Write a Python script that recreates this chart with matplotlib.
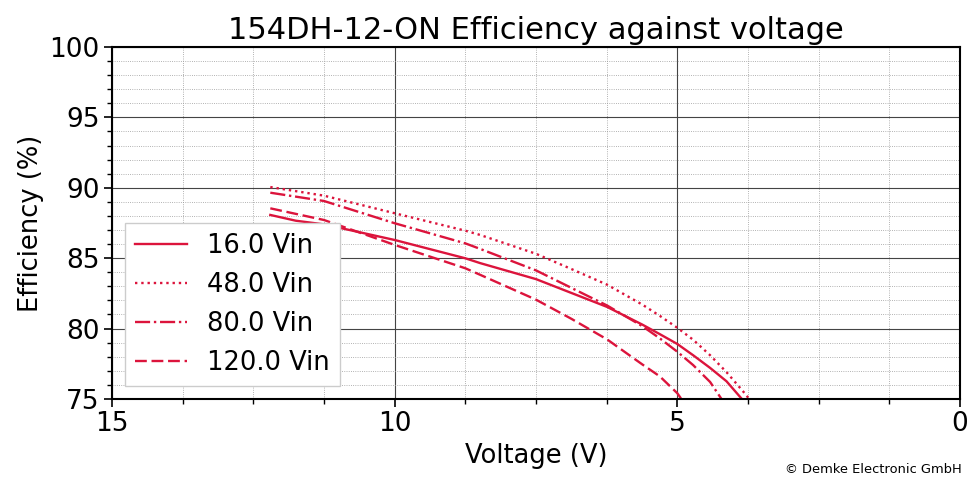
"""
Efficiency against output voltage for the 154DH-12-ON converter,
one curve per input voltage.
"""

import matplotlib
matplotlib.use("Agg")
import matplotlib.pyplot as plt
from matplotlib.ticker import AutoMinorLocator, MultipleLocator

# ----------------------------------
# Data
# ----------------------------------

v_16 = [12.2, 11.75, 11.25, 10.0, 8.75, 8.49, 7.5, 6.87, 6.24, 5.62,
        5.31, 5.0, 4.72, 4.42, 4.13, 3.86]
eff_16 = [88.07, 87.66, 87.4, 86.29, 84.99, 84.65, 83.51, 82.52, 81.53,
          80.28, 79.6, 78.9, 78.1, 77.2, 76.25, 75.0]

v_48 = [12.2, 11.25, 10.0, 8.75, 8.49, 7.5, 6.87, 6.24, 5.62, 5.31,
        5.0, 4.72, 4.42, 4.13, 3.83, 3.73]
eff_48 = [90.05, 89.44, 88.19, 86.95, 86.65, 85.31, 84.22, 83.11, 81.7,
          80.9, 80.05, 79.2, 78.1, 76.9, 75.5, 75.0]

v_80 = [12.2, 11.25, 10.0, 8.75, 8.49, 7.5, 6.87, 6.24, 5.62, 5.31,
        5.0, 4.72, 4.42, 4.22]
eff_80 = [89.65, 89.06, 87.48, 86.05, 85.66, 84.13, 82.88, 81.63, 80.17,
          79.3, 78.35, 77.4, 76.2, 75.0]

v_120 = [12.2, 11.25, 10.0, 8.75, 8.49, 7.5, 6.87, 6.24, 5.62, 5.31,
         5.0, 4.93]
eff_120 = [88.54, 87.71, 85.94, 84.28, 83.82, 82.05, 80.68, 79.22, 77.45,
           76.6, 75.4, 75.0]

labels = ["16.0 Vin", "48.0 Vin", "80.0 Vin", "120.0 Vin"]
styles = ["-", ":", "-.", "--"]

COLOR = "#DC143C"

# ----------------------------------
# Plot
# ----------------------------------

fig = plt.figure(figsize=(9.69, 4.8), dpi=100)
ax = fig.add_axes([0.1156, 0.169, 0.8751, 0.733])

series = [(v_16, eff_16), (v_48, eff_48), (v_80, eff_80), (v_120, eff_120)]
for (v, eff), lab, ls in zip(series, labels, styles):
    line, = ax.plot(v, eff, ls, color=COLOR, lw=1.7, label=lab)
    if ls == "--":
        line.set_dashes((5.0, 2.0))

ax.set_xlim(15, 0)
ax.set_ylim(75, 100)

ax.xaxis.set_major_locator(MultipleLocator(5))
ax.xaxis.set_minor_locator(AutoMinorLocator(4))
ax.yaxis.set_major_locator(MultipleLocator(5))
ax.yaxis.set_minor_locator(AutoMinorLocator(5))

ax.grid(True, which="major", color="#444444", lw=0.8)
ax.grid(True, which="minor", color="#999999", lw=0.6, ls=":")

ax.tick_params(which="major", labelsize=19, length=5.5, width=1.2)
ax.tick_params(which="minor", length=3.5, width=1.0)
for sp in ax.spines.values():
    sp.set_linewidth(1.5)

ax.set_xlabel("Voltage (V)", fontsize=18.5)
ax.set_ylabel("Efficiency (%)", fontsize=18.5)
ax.set_title("154DH-12-ON Efficiency against voltage", fontsize=22)

leg = ax.legend(loc="lower left", fontsize=18.5, fancybox=False,
                edgecolor="#cccccc", framealpha=1.0)

fig.text(0.993, 0.008, "\u00a9 Demke Electronic GmbH",
         ha="right", va="bottom", fontsize=9.4)

fig.savefig("out.png", dpi=100)
